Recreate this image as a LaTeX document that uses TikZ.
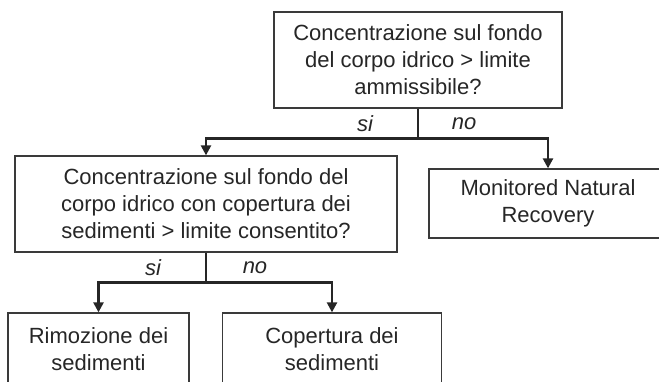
\documentclass[tikz,border=0pt]{standalone}
\usepackage{fontspec}
\setmainfont{Liberation Sans}
\definecolor{FlowInk}{HTML}{262626}
\definecolor{FlowLine}{HTML}{3A3A3A}
\usetikzlibrary{arrows.meta, calc, positioning}

\begin{document}
\begin{tikzpicture}[x=1pt, y=-1pt,
   box/.style={draw=FlowLine, line width=1.3pt, text=FlowInk, align=center,
      inner sep=0pt, font=\fontsize{22}{27}\selectfont},
   lbl/.style={text=FlowInk, font=\fontsize{22}{27}\selectfont\itshape},
   flow/.style={draw=FlowInk, line width=2.4pt, -{Triangle[length=10pt, width=10pt]}}]
   % Frame
   \useasboundingbox (0,0) rectangle (659,381);
   \clip (0,0) rectangle (659,381);
   % Questions
   \node[box, minimum width=288pt, minimum height=96pt] (q1) at (418,60)
      {Concentrazione sul fondo\\del corpo idrico > limite\\ammissibile?};
   \node[box, minimum width=382pt, minimum height=96pt] (q2) at (206,204)
      {Concentrazione sul fondo del\\corpo idrico con copertura dei\\sedimenti > limite consentito?};
   % Outcomes
   \node[box, minimum width=238pt, minimum height=69pt] (mnr) at (548,203.5)
      {Monitored Natural\\Recovery};
   \node[box, minimum width=181pt, minimum height=72pt] (rim) at (98.5,349)
      {Rimozione dei\\sedimenti};
   \node[box, minimum width=219pt, minimum height=72pt] (cop) at (332,349)
      {Copertura dei\\sedimenti};
   % Branches
   \draw[draw=FlowInk, line width=2.4pt] (q1.south) -- ++(0,30) coordinate (j1);
   \draw[flow] (j1) -| (q2.north);
   \draw[flow] (j1) -| (mnr.north);
   \draw[draw=FlowInk, line width=2.4pt] (q2.south) -- ++(0,30) coordinate (j2);
   \draw[flow] (j2) -| (rim.north);
   \draw[flow] (j2) -| (cop.north);
   % Answers
   \node[lbl] (si1) at (365,124) {si};
   \node[lbl] (no1) at (464,124) {no};
   \node[lbl] (si2) at (153,268) {si};
   \node[lbl] (no2) at (255,268) {no};
\end{tikzpicture}
\end{document}
